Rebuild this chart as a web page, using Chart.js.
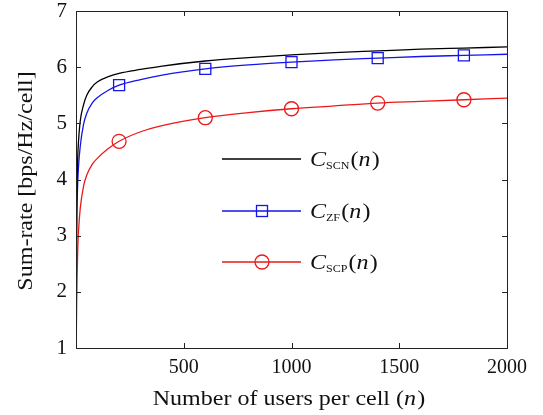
<!DOCTYPE html>
<html>
<head>
<meta charset="utf-8">
<script src="https://cdn.jsdelivr.net/npm/chart.js@4"></script>
<style>
  html, body { margin: 0; padding: 0; background: #fff; }
  #wrap { width: 543px; height: 415px; }
</style>
</head>
<body>
<div id="wrap"><canvas id="rateChart" width="543" height="415"></canvas></div>
<script>
// number of users per cell
const nValues = [1, 2, 3, 5, 8, 12, 20, 35, 50, 75, 100, 150, 200, 300, 400, 600, 800, 1000, 1200, 1400, 1600, 1800, 2000];
// sum-rates
const scnRate = [1.0, 2.8, 3.4, 3.95, 4.4, 4.7, 5.05, 5.33, 5.5, 5.65, 5.74, 5.83, 5.89, 5.96, 6.02, 6.11, 6.17, 6.22, 6.26, 6.29, 6.32, 6.34, 6.36];
const zfRate  = [1.0, 2.4, 3.0, 3.55, 3.95, 4.25, 4.6, 4.98, 5.18, 5.36, 5.46, 5.59, 5.68, 5.78, 5.86, 5.97, 6.04, 6.09, 6.13, 6.16, 6.19, 6.21, 6.23];
const scpRate = [1.0, 1.4, 1.75, 2.25, 2.75, 3.1, 3.5, 3.88, 4.08, 4.27, 4.38, 4.55, 4.68, 4.85, 4.96, 5.10, 5.19, 5.26, 5.31, 5.36, 5.39, 5.42, 5.45];
// where markers sit
const markerN = [200, 600, 1000, 1400, 1800];
const xTicks = [500, 1000, 1500, 2000];
const yTicks = [1, 2, 3, 4, 5, 6, 7];

const SERIF = "'Liberation Serif', 'DejaVu Serif', serif";
const BLUE = 'rgb(20, 20, 235)';
const RED = 'rgb(235, 25, 25)';
const WIDEN = 1.2; // computer-modern is wider than Times

function toPoints(ys) {
    return nValues.map((n, i) => ({ x: n, y: ys[i] }));
}

function markerRadius(r) {
    return function(ctx) {
        const p = ctx.raw;
        return p && markerN.includes(p.x) ? r : 0;
    };
}

// draw a run of [text, italic, size, dy] pieces, widened horizontally
function drawRun(ctx, parts, x, y, align) {
    const widths = parts.map(p => {
        ctx.font = (p[1] ? 'italic ' : '') + p[2] + 'px ' + SERIF;
        return ctx.measureText(p[0]).width + (p[4] || 0);
    });
    const total = widths.reduce((a, b) => a + b, 0);
    ctx.save();
    ctx.translate(x, y);
    ctx.scale(WIDEN, 1);
    let cx = align === 'center' ? -total / 2 : 0;
    ctx.textAlign = 'left';
    parts.forEach((p, i) => {
        ctx.font = (p[1] ? 'italic ' : '') + p[2] + 'px ' + SERIF;
        ctx.fillText(p[0], cx, p[3] || 0);
        cx += widths[i];
    });
    ctx.restore();
}

// frame with inward tick marks and axis titles
const boxFrame = {
    id: 'boxFrame',
    afterDraw(chart) {
        const { ctx, chartArea: a, scales } = chart;
        ctx.save();
        ctx.strokeStyle = '#222';
        ctx.lineWidth = 1;
        ctx.strokeRect(a.left + 0.5, a.top + 0.5, a.right - a.left, a.bottom - a.top);
        ctx.beginPath();
        xTicks.forEach(v => {
            const x = Math.round(scales.x.getPixelForValue(v)) + 0.5;
            ctx.moveTo(x, a.bottom); ctx.lineTo(x, a.bottom - 5);
            ctx.moveTo(x, a.top); ctx.lineTo(x, a.top + 5);
        });
        yTicks.forEach(v => {
            const y = Math.round(scales.y.getPixelForValue(v)) + 0.5;
            ctx.moveTo(a.left, y); ctx.lineTo(a.left + 5, y);
            ctx.moveTo(a.right, y); ctx.lineTo(a.right - 5, y);
        });
        ctx.stroke();

        ctx.fillStyle = '#111';
        ctx.textBaseline = 'alphabetic';
        drawRun(ctx, [
            ['Number of users per cell (', false, 20],
            ['n', true, 20, 0, 1],
            [')', false, 20]
        ], 289, 405, 'center');

        ctx.save();
        ctx.translate(32, 181);
        ctx.rotate(-Math.PI / 2);
        drawRun(ctx, [['Sum-rate [bps/Hz/cell]', false, 20]], 0, 0, 'center');
        ctx.restore();
        ctx.restore();
    }
};

// legend inside the plot
const innerLegend = {
    id: 'innerLegend',
    afterDraw(chart) {
        const ctx = chart.ctx;
        const rows = [
            { sub: 'SCN', color: '#000', marker: null, y: 159 },
            { sub: 'ZF', color: BLUE, marker: 'rect', y: 211 },
            { sub: 'SCP', color: RED, marker: 'circle', y: 262 }
        ];
        ctx.save();
        rows.forEach(r => {
            ctx.strokeStyle = r.color;
            ctx.lineWidth = 1.3;
            ctx.beginPath();
            ctx.moveTo(222, r.y); ctx.lineTo(301, r.y);
            ctx.stroke();
            if (r.marker === 'rect') {
                ctx.strokeRect(256.5, r.y - 5.5, 11, 11);
            } else if (r.marker === 'circle') {
                ctx.beginPath();
                ctx.arc(262, r.y, 7, 0, Math.PI * 2);
                ctx.stroke();
            }
            ctx.fillStyle = '#111';
            ctx.textBaseline = 'alphabetic';
            drawRun(ctx, [
                ['C', true, 20, 0, 0],
                [r.sub, false, 10, 3, 1],
                ['(', false, 20],
                ['n', true, 20, 0, 1],
                [')', false, 20]
            ], 310, r.y + 7, 'left');
        });
        ctx.restore();
    }
};

document.addEventListener('DOMContentLoaded', () => {
    const ctx = document.getElementById('rateChart').getContext('2d');
    const lineBase = {
        borderWidth: 1.3,
        pointBorderWidth: 1.3,
        pointBackgroundColor: 'rgba(0,0,0,0)',
        cubicInterpolationMode: 'monotone'
    };
    new Chart(ctx, {
        type: 'line',
        data: {
            datasets: [
                Object.assign({}, lineBase, {
                    label: 'C_SCN(n)',
                    data: toPoints(scnRate),
                    borderColor: '#000',
                    pointRadius: 0
                }),
                Object.assign({}, lineBase, {
                    label: 'C_ZF(n)',
                    data: toPoints(zfRate),
                    borderColor: BLUE,
                    pointStyle: 'rect',
                    pointRadius: markerRadius(7.8),
                    pointBorderColor: BLUE
                }),
                Object.assign({}, lineBase, {
                    label: 'C_SCP(n)',
                    data: toPoints(scpRate),
                    borderColor: RED,
                    pointStyle: 'circle',
                    pointRadius: markerRadius(7),
                    pointBorderColor: RED
                })
            ]
        },
        options: {
            responsive: false,
            animation: false,
            layout: { padding: { left: 0, top: 11, right: 36, bottom: 0 } },
            scales: {
                x: {
                    type: 'linear',
                    min: 0,
                    max: 2000,
                    grid: { display: false, drawTicks: false },
                    border: { display: false },
                    afterFit: function(scale) {
                        scale.height = 67;
                        scale.paddingLeft = 0;
                        scale.paddingRight = 0;
                    },
                    afterBuildTicks: function(scale) {
                        scale.ticks = xTicks.map(v => ({ value: v }));
                    },
                    ticks: {
                        padding: 8,
                        color: '#111',
                        font: { family: SERIF, size: 20 },
                        maxRotation: 0,
                        callback: function(value) { return String(value); }
                    }
                },
                y: {
                    min: 1,
                    max: 7,
                    grid: { display: false, drawTicks: false },
                    border: { display: false },
                    afterFit: function(scale) {
                        scale.width = 76;
                        scale.paddingTop = 0;
                        scale.paddingBottom = 0;
                    },
                    afterBuildTicks: function(scale) {
                        scale.ticks = yTicks.map(v => ({ value: v }));
                    },
                    ticks: {
                        padding: 9,
                        color: '#111',
                        font: { family: SERIF, size: 21 }
                    }
                }
            },
            plugins: {
                legend: { display: false },
                tooltip: { enabled: false }
            }
        },
        plugins: [boxFrame, innerLegend]
    });
});
</script>
</body>
</html>
